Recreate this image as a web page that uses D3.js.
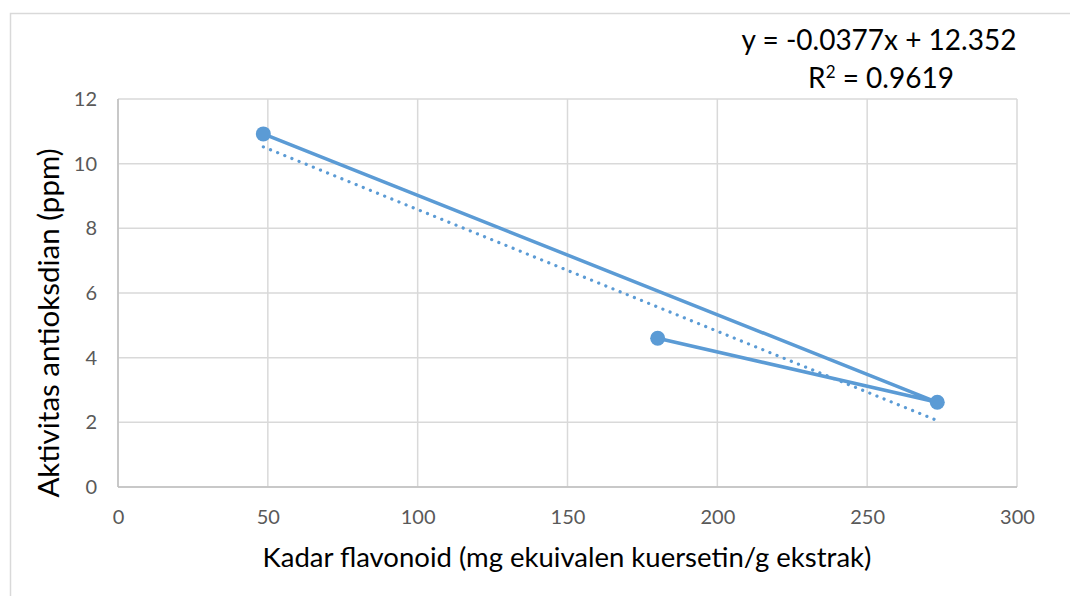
<!DOCTYPE html>
<html><head><meta charset="utf-8">
<script src="https://cdn.jsdelivr.net/npm/d3@7"></script>
<style>body{margin:0;background:#fff}svg{display:block}text{font-family:Lato,"Liberation Sans",Arial,sans-serif}</style>
</head><body><svg id="c" width="1070" height="596"></svg>
<script>
const xData = [48.5, 273.4, 180.1];
const yData = [10.92, 2.62, 4.6];
const xTicks = [0, 50, 100, 150, 200, 250, 300];
const yTicks = [0, 2, 4, 6, 8, 10, 12];
const xTitle = "Kadar flavonoid (mg ekuivalen kuersetin/g ekstrak)";
const yTitle = "Aktivitas antioksdian (ppm)";
const eqLine1 = "y = -0.0377x + 12.352";
const eqLine2a = "R", eqLine2b = "2", eqLine2c = " = 0.9619";

const FONT = 'Lato,"Liberation Sans",Arial,sans-serif';
const svg = d3.select("#c");
const m = {l:118, r:1017, t:99, b:487};
const x = d3.scaleLinear().domain([0,300]).range([m.l,m.r]);
const y = d3.scaleLinear().domain([0,12]).range([m.b,m.t]);
const color = "#5B9BD5";

svg.append("rect").attr("x",10.5).attr("y",13.5).attr("width",1100).attr("height",700)
  .attr("fill","none").attr("stroke","#D9D9D9").attr("stroke-width",1.5);

svg.append("g").selectAll("line").data(xTicks).join("line")
  .attr("x1",d=>x(d)).attr("x2",d=>x(d)).attr("y1",m.t).attr("y2",m.b)
  .attr("stroke","#D9D9D9").attr("stroke-width",1.5);
svg.append("g").selectAll("line").data(yTicks).join("line")
  .attr("x1",m.l).attr("x2",m.r).attr("y1",d=>y(d)).attr("y2",d=>y(d))
  .attr("stroke","#D9D9D9").attr("stroke-width",1.5);
svg.append("line").attr("x1",m.l).attr("x2",m.r).attr("y1",m.b).attr("y2",m.b).attr("stroke","#BFBFBF").attr("stroke-width",1.5);
svg.append("line").attr("x1",m.l).attr("x2",m.l).attr("y1",m.t).attr("y2",m.b).attr("stroke","#BFBFBF").attr("stroke-width",1.5);

const xAxis = svg.append("g").attr("transform",`translate(0,${m.b})`)
  .call(d3.axisBottom(x).tickValues(xTicks).tickSize(0).tickPadding(23).tickFormat(d3.format("d")));
const yAxis = svg.append("g").attr("transform",`translate(${m.l},0)`)
  .call(d3.axisLeft(y).tickValues(yTicks).tickSize(0).tickPadding(21).tickFormat(d3.format("d")));
[xAxis,yAxis].forEach(g=>{g.select(".domain").remove();
  g.selectAll("text").attr("fill","#595959").style("font-size","20px").style("font-family",FONT);});

svg.append("text").attr("x",567).attr("y",567).attr("text-anchor","middle")
  .attr("fill","#000").style("font-size","27.5px").text(xTitle);
svg.append("text").attr("transform",`translate(59,323) rotate(-90)`).attr("text-anchor","middle")
  .attr("fill","#000").style("font-size","29.5px").text(yTitle);

// trendline from least-squares regression of the data
const n = xData.length;
const mx = d3.mean(xData), my = d3.mean(yData);
let sxy=0,sxx=0; for(let i=0;i<n;i++){sxy+=(xData[i]-mx)*(yData[i]-my);sxx+=(xData[i]-mx)**2;}
const slope = sxy/sxx, icpt = my - slope*mx;
const xr = d3.extent(xData);
svg.append("line").attr("x1",x(xr[0])).attr("y1",y(slope*xr[0]+icpt))
  .attr("x2",x(xr[1])).attr("y2",y(slope*xr[1]+icpt))
  .attr("stroke",color).attr("stroke-width",3.2).attr("stroke-dasharray","0.1 7.6").attr("stroke-linecap","round");

const pts = xData.map((d,i)=>[d,yData[i]]);
svg.append("path").datum(pts).attr("d",d3.line().x(d=>x(d[0])).y(d=>y(d[1])))
  .attr("fill","none").attr("stroke",color).attr("stroke-width",3.5).attr("stroke-linejoin","round");
svg.append("g").selectAll("circle").data(pts).join("circle")
  .attr("cx",d=>x(d[0])).attr("cy",d=>y(d[1])).attr("r",7.5).attr("fill",color);

svg.append("text").attr("x",879).attr("y",50).attr("text-anchor","middle").attr("fill","#000")
  .style("font-size","28px").text(eqLine1);
const t2 = svg.append("text").attr("x",881).attr("y",88).attr("text-anchor","middle").attr("fill","#000").style("font-size","28px");
t2.append("tspan").text(eqLine2a);
t2.append("tspan").attr("dy",-10).style("font-size","17px").text(eqLine2b);
t2.append("tspan").attr("dy",10).text(eqLine2c);
</script></body></html>
